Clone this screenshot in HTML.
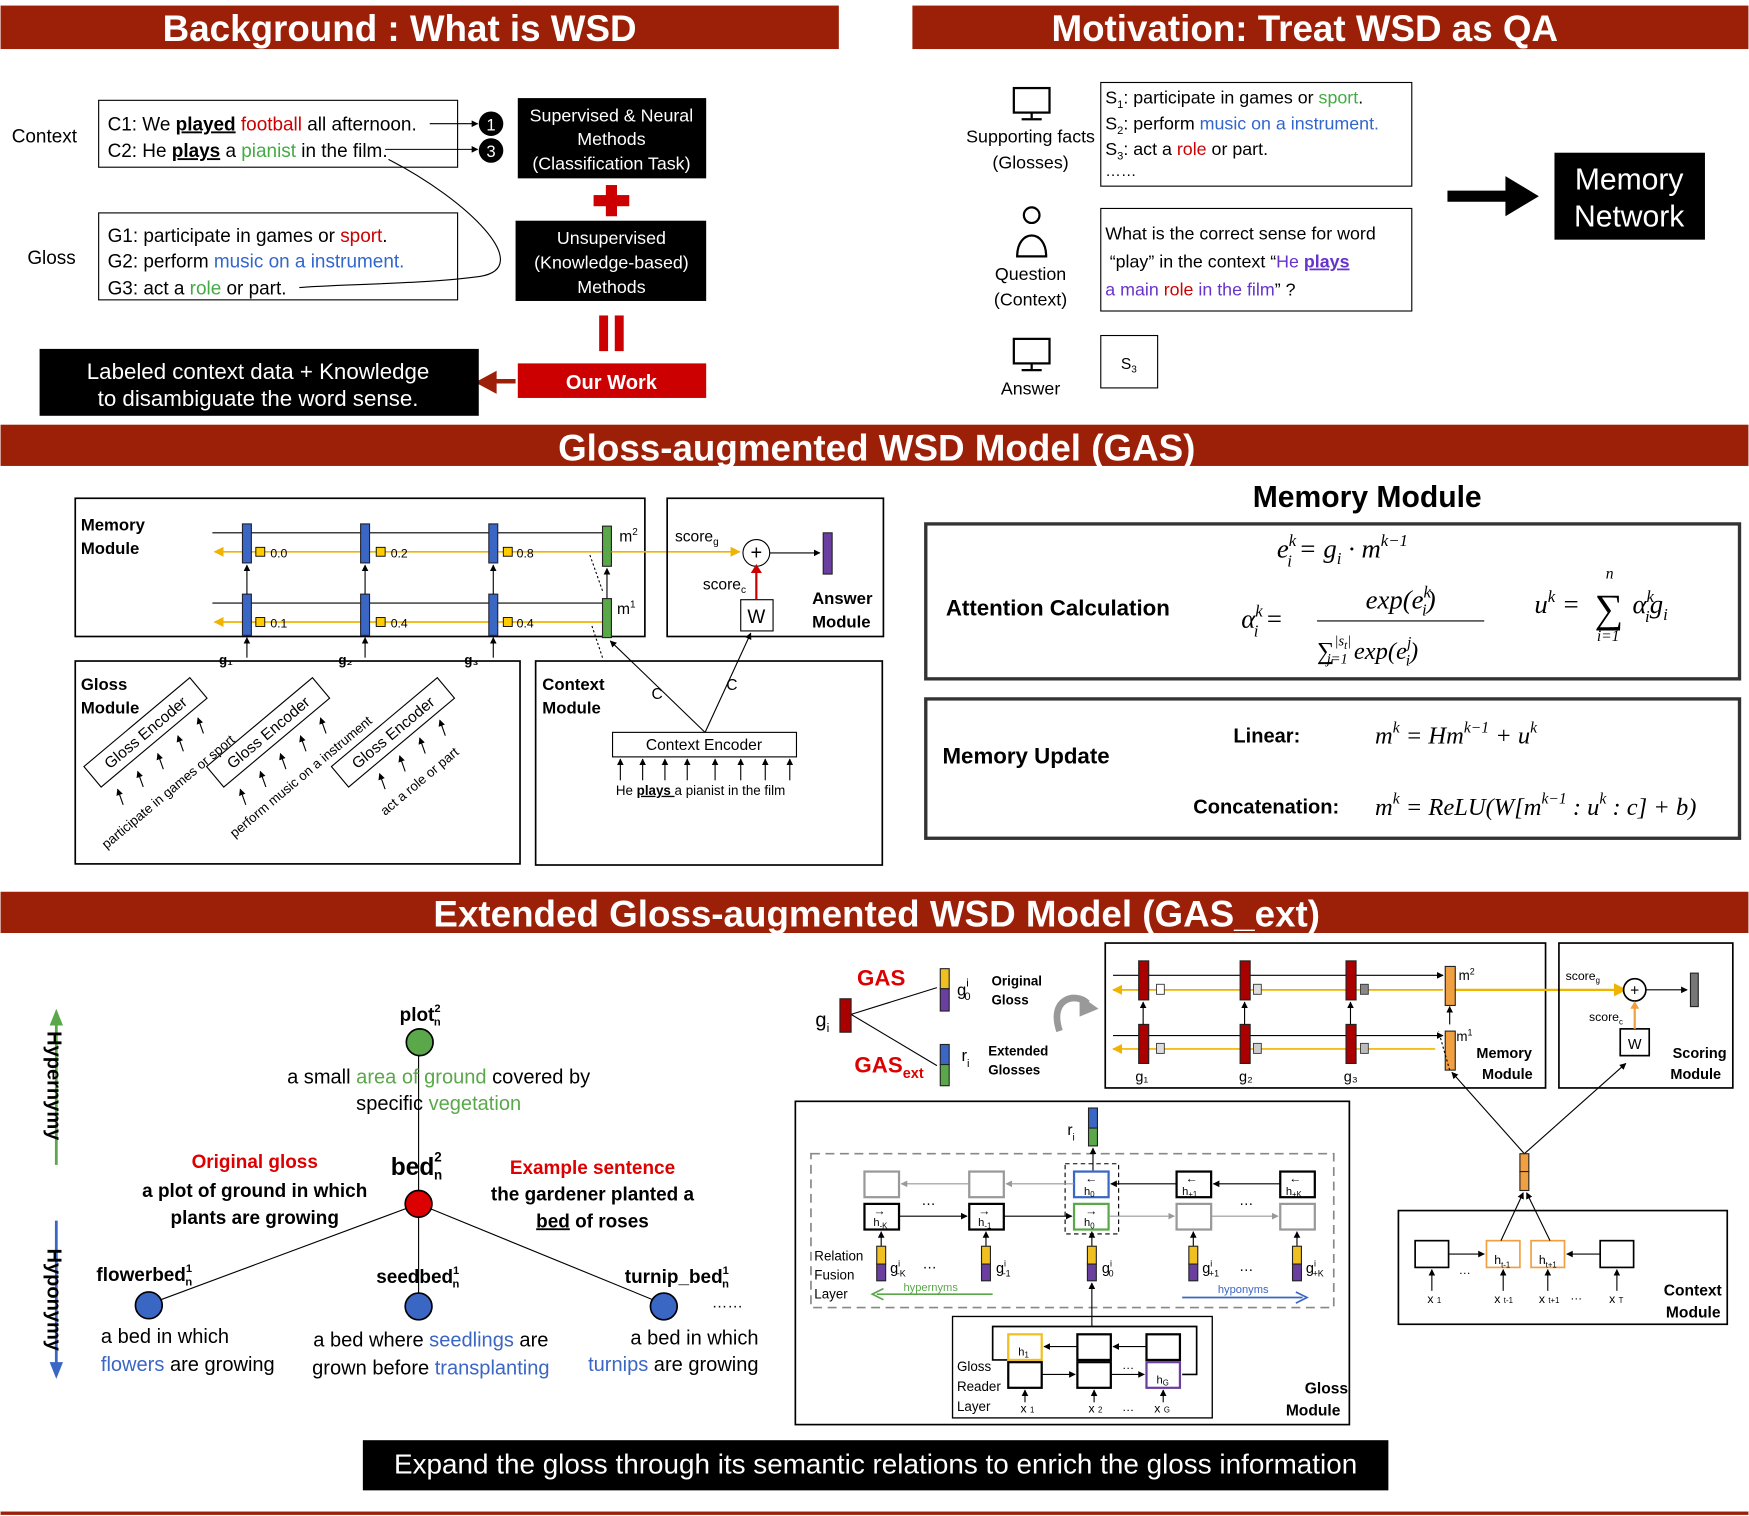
<!DOCTYPE html>
<html><head><meta charset="utf-8"><style>
html,body{margin:0;padding:0;background:#fff;}
svg{display:block;}
text{font-family:"Liberation Sans",sans-serif;}
.b{font-weight:bold;}
.m{font-family:"Liberation Serif",serif;font-style:italic;}
</style></head><body>
<svg width="1749" height="1516" viewBox="0 0 1568 1360" xmlns="http://www.w3.org/2000/svg">
<defs>
<marker id="a" viewBox="0 0 10 10" refX="9" refY="5" markerWidth="6" markerHeight="6" orient="auto"><path d="M0,0L10,5L0,10z" fill="#000"/></marker>
<marker id="ay" viewBox="0 0 10 10" refX="9" refY="5" markerWidth="6" markerHeight="6" orient="auto"><path d="M0,0L10,5L0,10z" fill="#f0b400"/></marker>
<marker id="ag" viewBox="0 0 10 10" refX="9" refY="5" markerWidth="6" markerHeight="6" orient="auto"><path d="M0,0L10,5L0,10z" fill="#999"/></marker>
</defs>
<rect width="1568" height="1360" fill="#fff"/>
<!-- banners -->
<rect x="0" y="5" width="752" height="39" fill="#9c1f08"/>
<text x="358" y="37" font-size="33" fill="#fff" class="b" text-anchor="middle">Background : What is WSD</text>
<rect x="818" y="5" width="750" height="39" fill="#9c1f08"/>
<text x="1170" y="37" font-size="33" fill="#fff" class="b" text-anchor="middle">Motivation: Treat WSD as QA</text>
<rect x="0" y="381" width="1568" height="37" fill="#9c1f08"/>
<text x="786" y="413" font-size="33" fill="#fff" class="b" text-anchor="middle">Gloss-augmented WSD Model (GAS)</text>
<rect x="0" y="800" width="1568" height="37" fill="#9c1f08"/>
<text x="786" y="831" font-size="33" fill="#fff" class="b" text-anchor="middle">Extended Gloss-augmented WSD Model (GAS_ext)</text>
<rect x="0" y="1356" width="1568" height="3" fill="#9c1f08"/>

<!-- Background section -->
<text x="10" y="128" font-size="17">Context</text>
<text x="24" y="237" font-size="17">Gloss</text>
<rect x="88" y="90" width="322" height="60" fill="none" stroke="#000"/>
<text x="96" y="117" font-size="17">C1: We <tspan class="b" text-decoration="underline">played</tspan> <tspan fill="#c00">football</tspan> all afternoon.</text>
<text x="96" y="141" font-size="17">C2: He <tspan class="b" text-decoration="underline">plays</tspan> a <tspan fill="#4a4">pianist</tspan> in the film.</text>
<line x1="385" y1="111" x2="428" y2="111" stroke="#000" marker-end="url(#a)"/>
<line x1="345" y1="134" x2="428" y2="134" stroke="#000" marker-end="url(#a)"/>
<circle cx="440" cy="111" r="11" fill="#000"/><text x="440" y="117" font-size="15" fill="#fff" text-anchor="middle">1</text>
<circle cx="440" cy="135" r="11" fill="#000"/><text x="440" y="141" font-size="15" fill="#fff" text-anchor="middle">3</text>
<path d="M348,143 C420,180 480,240 430,248 C380,255 300,255 268,258" fill="none" stroke="#000"/>
<rect x="88" y="191" width="322" height="78" fill="none" stroke="#000"/>
<text x="96" y="217" font-size="17">G1: participate in games or <tspan fill="#c00">sport</tspan>.</text>
<text x="96" y="240" font-size="17">G2: perform <tspan fill="#36c">music on a instrument.</tspan></text>
<text x="96" y="264" font-size="17">G3: act a <tspan fill="#4a4">role</tspan> or part.</text>
<rect x="464" y="88" width="169" height="72" fill="#000"/>
<text x="548" y="109" font-size="16" fill="#fff" text-anchor="middle">Supervised &amp; Neural</text>
<text x="548" y="130" font-size="16" fill="#fff" text-anchor="middle">Methods</text>
<text x="548" y="152" font-size="16" fill="#fff" text-anchor="middle">(Classification Task)</text>
<rect x="543" y="166" width="10" height="28" fill="#c00"/><rect x="532" y="175" width="32" height="10" fill="#c00"/>
<rect x="462" y="198" width="171" height="72" fill="#000"/>
<text x="548" y="219" font-size="16" fill="#fff" text-anchor="middle">Unsupervised</text>
<text x="548" y="241" font-size="16" fill="#fff" text-anchor="middle">(Knowledge-based)</text>
<text x="548" y="263" font-size="16" fill="#fff" text-anchor="middle">Methods</text>
<rect x="537" y="283" width="8" height="32" fill="#c00"/><rect x="551" y="283" width="8" height="32" fill="#c00"/>
<rect x="464" y="326" width="169" height="31" fill="#c00"/>
<text x="548" y="349" font-size="18" fill="#fff" class="b" text-anchor="middle">Our Work</text>
<path d="M462,342 L443,342 L443,336 L430,343 L443,350 L443,344" fill="#9c1f08" stroke="#9c1f08" stroke-width="4"/>
<rect x="35" y="313" width="394" height="60" fill="#000"/>
<text x="231" y="340" font-size="20" fill="#fff" text-anchor="middle">Labeled context data + Knowledge</text>
<text x="231" y="364" font-size="20" fill="#fff" text-anchor="middle">to disambiguate the word sense.</text>

<!-- Motivation -->
<g fill="none" stroke="#000" stroke-width="2">
<rect x="909" y="79" width="32" height="22"/><line x1="925" y1="101" x2="925" y2="106"/><line x1="916" y1="107" x2="934" y2="107"/>
<rect x="909" y="304" width="32" height="22"/><line x1="925" y1="326" x2="925" y2="331"/><line x1="916" y1="332" x2="934" y2="332"/>
<circle cx="925" cy="193" r="7"/><path d="M912,230 C912,205 938,205 938,230 Z"/>
</g>
<text x="924" y="128" font-size="16" text-anchor="middle">Supporting facts</text>
<text x="924" y="151" font-size="16" text-anchor="middle">(Glosses)</text>
<text x="924" y="251" font-size="16" text-anchor="middle">Question</text>
<text x="924" y="274" font-size="16" text-anchor="middle">(Context)</text>
<text x="924" y="354" font-size="16" text-anchor="middle">Answer</text>
<rect x="987" y="74" width="279" height="93" fill="none" stroke="#000"/>
<text x="991" y="93" font-size="16">S<tspan font-size="10" dy="4">1</tspan><tspan dy="-4">: participate in games or </tspan><tspan fill="#4a4">sport</tspan>.</text>
<text x="991" y="116" font-size="16">S<tspan font-size="10" dy="4">2</tspan><tspan dy="-4">: perform </tspan><tspan fill="#36c">music on a instrument.</tspan></text>
<text x="991" y="139" font-size="16">S<tspan font-size="10" dy="4">3</tspan><tspan dy="-4">: act a </tspan><tspan fill="#c00">role</tspan> or part.</text>
<text x="991" y="158" font-size="14">……</text>
<rect x="987" y="187" width="279" height="92" fill="none" stroke="#000"/>
<text x="991" y="215" font-size="16">What is the correct sense for word</text>
<text x="995" y="240" font-size="16">“play”  in the context “<tspan fill="#63c">He <tspan class="b" text-decoration="underline">plays</tspan></tspan></text>
<text x="991" y="265" font-size="16"><tspan fill="#63c">a main </tspan><tspan fill="#c00">role</tspan><tspan fill="#63c"> in the film</tspan>” ?</text>
<rect x="987" y="301" width="51" height="47" fill="none" stroke="#000"/>
<text x="1005" y="331" font-size="14">S<tspan font-size="9" dy="3">3</tspan></text>
<path d="M1298,171 L1350,171 L1350,158 L1380,176 L1350,194 L1350,181 L1298,181 Z" fill="#000"/>
<rect x="1394" y="137" width="135" height="78" fill="#000"/>
<text x="1461" y="170" font-size="27" fill="#fff" text-anchor="middle">Memory</text>
<text x="1461" y="203" font-size="27" fill="#fff" text-anchor="middle">Network</text>

<!-- GAS model -->
<rect x="67" y="447" width="511" height="124" fill="none" stroke="#000" stroke-width="1.5"/>
<text x="72" y="476" font-size="15" class="b">Memory</text><text x="72" y="497" font-size="15" class="b">Module</text>
<line x1="190" y1="478" x2="540" y2="478" stroke="#000"/>
<line x1="540" y1="495" x2="192" y2="495" stroke="#f0b400" stroke-width="1.5" marker-end="url(#ay)"/>
<line x1="190" y1="541" x2="540" y2="541" stroke="#000"/>
<line x1="540" y1="558" x2="192" y2="558" stroke="#f0b400" stroke-width="1.5" marker-end="url(#ay)"/>
<g fill="#3a66c4" stroke="#223" stroke-width="1">
<rect x="217" y="470" width="8" height="35"/><rect x="323" y="470" width="8" height="35"/><rect x="438" y="470" width="8" height="35"/>
<rect x="217" y="533" width="8" height="37"/><rect x="323" y="533" width="8" height="37"/><rect x="438" y="533" width="8" height="37"/>
</g>
<g stroke="#000" marker-end="url(#a)">
<line x1="221" y1="533" x2="221" y2="507"/><line x1="327" y1="533" x2="327" y2="507"/><line x1="442" y1="533" x2="442" y2="507"/>
<line x1="221" y1="590" x2="221" y2="572"/><line x1="327" y1="590" x2="327" y2="572"/><line x1="442" y1="590" x2="442" y2="572"/>
<line x1="544" y1="537" x2="544" y2="510"/>
</g>
<g fill="#fc0" stroke="#000" stroke-width="0.8">
<rect x="229" y="491" width="8" height="8"/><rect x="337" y="491" width="8" height="8"/><rect x="451" y="491" width="8" height="8"/>
<rect x="229" y="554" width="8" height="8"/><rect x="337" y="554" width="8" height="8"/><rect x="451" y="554" width="8" height="8"/>
</g>
<g font-size="11"><text x="242" y="500">0.0</text><text x="350" y="500">0.2</text><text x="463" y="500">0.8</text>
<text x="242" y="563">0.1</text><text x="350" y="563">0.4</text><text x="463" y="563">0.4</text></g>
<rect x="540" y="472" width="8" height="36" fill="#5aa84a" stroke="#222"/>
<rect x="540" y="537" width="8" height="35" fill="#5aa84a" stroke="#222"/>
<text x="555" y="486" font-size="14">m<tspan font-size="9" dy="-6">2</tspan></text>
<text x="553" y="551" font-size="14">m<tspan font-size="9" dy="-6">1</tspan></text>
<line x1="548" y1="495" x2="663" y2="495" stroke="#f0b400" stroke-width="1.5" marker-end="url(#ay)"/>
<line x1="540" y1="530" x2="528" y2="496" stroke="#000" stroke-dasharray="2,2"/>
<line x1="540" y1="590" x2="530" y2="560" stroke="#000" stroke-dasharray="2,2"/>
<text x="196" y="596" font-size="12" class="b">g₁</text><text x="303" y="596" font-size="12" class="b">g₂</text><text x="416" y="596" font-size="12" class="b">g₃</text>
<rect x="598" y="447" width="194" height="124" fill="none" stroke="#000" stroke-width="1.5"/>
<text x="605" y="486" font-size="14">score<tspan font-size="9" dy="3">g</tspan></text>
<text x="630" y="529" font-size="14">score<tspan font-size="9" dy="3">c</tspan></text>
<circle cx="678" cy="496" r="12" fill="#fff" stroke="#000"/><text x="678" y="502" font-size="18" text-anchor="middle">+</text>
<line x1="690" y1="496" x2="735" y2="496" stroke="#000" marker-end="url(#a)"/>
<rect x="738" y="478" width="8" height="37" fill="#6a3fa0" stroke="#222"/>
<rect x="664" y="538" width="29" height="28" fill="#fff" stroke="#000"/><text x="678" y="559" font-size="17" text-anchor="middle">W</text>
<line x1="678" y1="538" x2="678" y2="510" stroke="#c00" stroke-width="2"/>
<path d="M673,514 L678,506 L683,514z" fill="#c00"/>
<text x="728" y="542" font-size="15" class="b">Answer</text><text x="728" y="563" font-size="15" class="b">Module</text>
<rect x="67" y="593" width="399" height="182" fill="none" stroke="#000" stroke-width="1.5"/>
<text x="72" y="619" font-size="15" class="b">Gloss</text><text x="72" y="640" font-size="15" class="b">Module</text>
<g font-size="14">
<g transform="translate(130,657) rotate(-40)"><rect x="-62" y="-12" width="124" height="24" fill="#fff" stroke="#000"/><text x="0" y="5" text-anchor="middle">Gloss Encoder</text></g>
<g transform="translate(240,657) rotate(-40)"><rect x="-62" y="-12" width="124" height="24" fill="#fff" stroke="#000"/><text x="0" y="5" text-anchor="middle">Gloss Encoder</text></g>
<g transform="translate(352,657) rotate(-40)"><rect x="-62" y="-12" width="124" height="24" fill="#fff" stroke="#000"/><text x="0" y="5" text-anchor="middle">Gloss Encoder</text></g>
</g>
<g font-size="12">
<text transform="translate(95,762) rotate(-40)">participate in games or sport</text>
<text transform="translate(210,752) rotate(-40)">perform music on a instrument</text>
<text transform="translate(345,732) rotate(-40)">act a role or part</text>
</g>
<g stroke="#000" marker-end="url(#a)">
<line x1="110" y1="722" x2="105" y2="708"/><line x1="128" y1="706" x2="123" y2="692"/><line x1="146" y1="690" x2="141" y2="676"/><line x1="164" y1="674" x2="159" y2="660"/><line x1="182" y1="658" x2="177" y2="644"/>
<line x1="220" y1="722" x2="215" y2="708"/><line x1="238" y1="706" x2="233" y2="692"/><line x1="256" y1="690" x2="251" y2="676"/><line x1="274" y1="674" x2="269" y2="660"/><line x1="292" y1="658" x2="287" y2="644"/>
<line x1="345" y1="708" x2="340" y2="694"/><line x1="363" y1="692" x2="358" y2="678"/><line x1="381" y1="676" x2="376" y2="662"/><line x1="399" y1="660" x2="394" y2="646"/>
</g>
<rect x="480" y="593" width="311" height="183" fill="none" stroke="#000" stroke-width="1.5"/>
<text x="486" y="619" font-size="15" class="b">Context</text><text x="486" y="640" font-size="15" class="b">Module</text>
<rect x="549" y="657" width="165" height="22" fill="#fff" stroke="#000"/>
<text x="631" y="673" font-size="14" text-anchor="middle">Context Encoder</text>
<line x1="632" y1="657" x2="547" y2="575" stroke="#000" marker-end="url(#a)"/>
<line x1="632" y1="657" x2="673" y2="568" stroke="#000" marker-end="url(#a)"/>
<text x="584" y="627" font-size="14">C</text><text x="651" y="619" font-size="14">C</text>
<g stroke="#000" marker-end="url(#a)">
<line x1="556" y1="700" x2="556" y2="681"/><line x1="576" y1="700" x2="576" y2="681"/><line x1="596" y1="700" x2="596" y2="681"/><line x1="616" y1="700" x2="616" y2="681"/><line x1="641" y1="700" x2="641" y2="681"/><line x1="664" y1="700" x2="664" y2="681"/><line x1="686" y1="700" x2="686" y2="681"/><line x1="708" y1="700" x2="708" y2="681"/>
</g>
<text x="552" y="713" font-size="12">He <tspan class="b" text-decoration="underline">plays </tspan>a pianist in the film</text>

<text x="1226" y="455" font-size="27" class="b" text-anchor="middle">Memory Module</text>
<rect x="830" y="470" width="730" height="139" fill="none" stroke="#333" stroke-width="3"/>
<text x="848" y="552" font-size="20" class="b">Attention Calculation</text>
<text x="1145" y="500" font-size="24" class="m">e<tspan font-size="15" dy="-10">k</tspan><tspan font-size="15" dx="-8" dy="18">i</tspan><tspan dy="-8"> = g</tspan><tspan font-size="15" dy="6">i</tspan><tspan dy="-6"> · m</tspan><tspan font-size="15" dy="-10">k−1</tspan></text>
<text x="1113" y="563" font-size="24" class="m">α<tspan font-size="15" dy="-10">k</tspan><tspan font-size="15" dx="-8" dy="18">i</tspan><tspan dy="-8"> =</tspan></text>
<text x="1256" y="546" font-size="24" class="m" text-anchor="middle">exp(e<tspan font-size="15" dy="-10">k</tspan><tspan font-size="15" dx="-8" dy="16">i</tspan><tspan dy="-6">)</tspan></text>
<line x1="1181" y1="557" x2="1331" y2="557" stroke="#000"/>
<text x="1181" y="591" font-size="22" class="m">∑<tspan font-size="13" dy="-12">|s</tspan><tspan font-size="10" dy="3">t</tspan><tspan font-size="13" dy="-3">|</tspan><tspan font-size="13" dx="-22" dy="16">j=1</tspan><tspan dy="-4"> exp(e</tspan><tspan font-size="14" dy="-10">j</tspan><tspan font-size="14" dx="-5" dy="16">i</tspan><tspan dy="-6">)</tspan></text>
<text x="1376" y="550" font-size="24" class="m">u<tspan font-size="15" dy="-10">k</tspan><tspan dy="10"> = </tspan></text>
<text x="1430" y="558" font-size="36" class="m">∑</text>
<text x="1440" y="519" font-size="14" class="m">n</text><text x="1432" y="575" font-size="14" class="m">i=1</text>
<text x="1464" y="550" font-size="24" class="m">α<tspan font-size="15" dy="-10">k</tspan><tspan font-size="15" dx="-8" dy="18">i</tspan><tspan dy="-8">g</tspan><tspan font-size="15" dy="6">i</tspan></text>
<rect x="830" y="627" width="730" height="125" fill="none" stroke="#333" stroke-width="3"/>
<text x="845" y="685" font-size="20" class="b">Memory Update</text>
<text x="1106" y="666" font-size="18" class="b">Linear:</text>
<text x="1070" y="730" font-size="18" class="b">Concatenation:</text>
<text x="1233" y="667" font-size="22" class="m">m<tspan font-size="14" dy="-10">k</tspan><tspan dy="10"> = Hm</tspan><tspan font-size="14" dy="-10">k−1</tspan><tspan dy="10"> + u</tspan><tspan font-size="14" dy="-10">k</tspan></text>
<text x="1233" y="731" font-size="22" class="m">m<tspan font-size="14" dy="-10">k</tspan><tspan dy="10"> = ReLU(W[m</tspan><tspan font-size="14" dy="-10">k−1</tspan><tspan dy="10"> : u</tspan><tspan font-size="14" dy="-10">k</tspan><tspan dy="10"> : c] + b)</tspan></text>

<!-- Bottom-left tree -->
<line x1="50" y1="1045" x2="50" y2="915" stroke="#5aa84a" stroke-width="2.5"/>
<path d="M44,920 L50,905 L56,920z" fill="#5aa84a"/>
<line x1="50" y1="1095" x2="50" y2="1225" stroke="#3a66c4" stroke-width="2.5"/>
<path d="M44,1222 L50,1237 L56,1222z" fill="#3a66c4"/>
<text transform="translate(42,925) rotate(90)" font-size="18" class="b">Hypernymy</text>
<text transform="translate(42,1120) rotate(90)" font-size="18" class="b">Hyponymy</text>
<line x1="375" y1="935" x2="375" y2="1170" stroke="#000"/>
<line x1="375" y1="1080" x2="133" y2="1170" stroke="#000"/>
<line x1="375" y1="1080" x2="595" y2="1170" stroke="#000"/>
<circle cx="376" cy="935" r="12" fill="#5aa84a" stroke="#000" stroke-width="1.5"/>
<circle cx="375" cy="1080" r="12" fill="#d00" stroke="#000" stroke-width="1.5"/>
<circle cx="133" cy="1171" r="12" fill="#3a66c4" stroke="#000" stroke-width="1.5"/>
<circle cx="375" cy="1172" r="12" fill="#3a66c4" stroke="#000" stroke-width="1.5"/>
<circle cx="595" cy="1172" r="12" fill="#3a66c4" stroke="#000" stroke-width="1.5"/>
<text x="358" y="916" font-size="17" class="b">plot<tspan font-size="10" dy="-8">2</tspan><tspan font-size="10" dx="-6" dy="12">n</tspan></text>
<text x="393" y="972" font-size="18" text-anchor="middle">a small <tspan fill="#5aa84a">area of ground</tspan> covered by</text>
<text x="393" y="996" font-size="18" text-anchor="middle">specific <tspan fill="#5aa84a">vegetation</tspan></text>
<text x="350" y="1054" font-size="22" class="b">bed<tspan font-size="12" dy="-12">2</tspan><tspan font-size="12" dx="-7" dy="16">n</tspan></text>
<text x="228" y="1048" font-size="17" class="b" fill="#d00" text-anchor="middle">Original gloss</text>
<text x="228" y="1074" font-size="17" class="b" text-anchor="middle">a plot of ground in which</text>
<text x="228" y="1098" font-size="17" class="b" text-anchor="middle">plants are growing</text>
<text x="531" y="1053" font-size="17" class="b" fill="#d00" text-anchor="middle">Example sentence</text>
<text x="531" y="1077" font-size="17" class="b" text-anchor="middle">the gardener planted a</text>
<text x="531" y="1101" font-size="17" class="b" text-anchor="middle"><tspan text-decoration="underline">bed</tspan> of roses</text>
<text x="86" y="1149" font-size="17" class="b">flowerbed<tspan font-size="10" dy="-8">1</tspan><tspan font-size="10" dx="-6" dy="12">n</tspan></text>
<text x="337" y="1151" font-size="17" class="b">seedbed<tspan font-size="10" dy="-8">1</tspan><tspan font-size="10" dx="-6" dy="12">n</tspan></text>
<text x="560" y="1151" font-size="17" class="b">turnip_bed<tspan font-size="10" dy="-8">1</tspan><tspan font-size="10" dx="-6" dy="12">n</tspan></text>
<text x="638" y="1173" font-size="14">……</text>
<text x="90" y="1205" font-size="18">a bed in which</text>
<text x="90" y="1230" font-size="18"><tspan fill="#3a66c4">flowers</tspan> are growing</text>
<text x="386" y="1208" font-size="18" text-anchor="middle">a bed where <tspan fill="#3a66c4">seedlings</tspan> are</text>
<text x="386" y="1233" font-size="18" text-anchor="middle">grown before <tspan fill="#3a66c4">transplanting</tspan></text>
<text x="680" y="1206" font-size="18" text-anchor="end">a bed in which</text>
<text x="680" y="1230" font-size="18" text-anchor="end"><tspan fill="#3a66c4">turnips</tspan> are growing</text>

<!-- GAS / GAS_ext legend -->
<text x="790" y="884" font-size="20" class="b" fill="#d00" text-anchor="middle">GAS</text>
<text x="766" y="962" font-size="20" class="b" fill="#d00">GAS<tspan font-size="13" dy="5">ext</tspan></text>
<text x="731" y="921" font-size="18">g<tspan font-size="11" dy="5">i</tspan></text>
<rect x="753" y="896" width="10" height="30" fill="#a00" stroke="#222"/>
<line x1="763" y1="910" x2="840" y2="886" stroke="#000"/>
<line x1="763" y1="910" x2="840" y2="956" stroke="#000"/>
<rect x="843" y="869" width="8" height="18" fill="#f0c020" stroke="#222"/><rect x="843" y="887" width="8" height="20" fill="#6a3fa0" stroke="#222"/>
<rect x="843" y="937" width="8" height="18" fill="#3a66c4" stroke="#222"/><rect x="843" y="955" width="8" height="19" fill="#5aa84a" stroke="#222"/>
<text x="858" y="893" font-size="15">g<tspan font-size="10" dy="-8">i</tspan><tspan font-size="10" dx="-4" dy="12">0</tspan></text>
<text x="862" y="952" font-size="15">r<tspan font-size="10" dy="5">i</tspan></text>
<text x="889" y="884" font-size="12" class="b">Original</text><text x="889" y="901" font-size="12" class="b">Gloss</text>
<text x="886" y="947" font-size="12" class="b">Extended</text><text x="886" y="964" font-size="12" class="b">Glosses</text>
<path d="M950,925 C940,895 965,890 975,900" fill="none" stroke="#999" stroke-width="6"/>
<path d="M968,893 L985,905 L968,912z" fill="#999"/>

<!-- GAS_ext Memory module -->
<rect x="991" y="846" width="395" height="130" fill="none" stroke="#000" stroke-width="1.5"/>
<line x1="998" y1="875" x2="1294" y2="875" stroke="#000" marker-end="url(#a)"/>
<line x1="998" y1="929" x2="1294" y2="929" stroke="#000" marker-end="url(#a)"/>
<line x1="1303" y1="888" x2="1458" y2="888" stroke="#f0b400" stroke-width="2" marker-end="url(#ay)"/>
<line x1="1294" y1="888" x2="998" y2="888" stroke="#f0b400" stroke-width="1.5" marker-end="url(#ay)"/>
<line x1="1287" y1="941" x2="998" y2="941" stroke="#f0b400" stroke-width="1.5" marker-end="url(#ay)"/>
<g fill="#a00" stroke="#222">
<rect x="1021" y="862" width="9" height="35"/><rect x="1112" y="862" width="9" height="35"/><rect x="1207" y="862" width="9" height="35"/>
<rect x="1021" y="919" width="9" height="35"/><rect x="1112" y="919" width="9" height="35"/><rect x="1207" y="919" width="9" height="35"/>
</g>
<g stroke="#000" marker-end="url(#a)">
<line x1="1025" y1="919" x2="1025" y2="899"/><line x1="1116" y1="919" x2="1116" y2="899"/><line x1="1211" y1="919" x2="1211" y2="899"/>
<line x1="1300" y1="919" x2="1300" y2="903"/>
</g>
<g stroke="#333" stroke-width="0.8">
<rect x="1037" y="883" width="7" height="9" fill="#fff"/><rect x="1124" y="883" width="7" height="9" fill="#ddd"/><rect x="1220" y="883" width="7" height="9" fill="#888"/>
<rect x="1037" y="936" width="7" height="9" fill="#ddd"/><rect x="1124" y="936" width="7" height="9" fill="#ccc"/><rect x="1220" y="936" width="7" height="9" fill="#bbb"/>
</g>
<rect x="1296" y="867" width="9" height="35" fill="#f0a040" stroke="#222"/>
<rect x="1296" y="925" width="9" height="35" fill="#f0a040" stroke="#222"/>
<text x="1308" y="879" font-size="12">m<tspan font-size="8" dy="-5">2</tspan></text>
<text x="1306" y="934" font-size="12">m<tspan font-size="8" dy="-5">1</tspan></text>
<line x1="1300" y1="960" x2="1290" y2="925" stroke="#000" stroke-dasharray="2,2"/>
<text x="1018" y="970" font-size="13">g₁</text><text x="1111" y="970" font-size="13">g₂</text><text x="1205" y="970" font-size="13">g₃</text>
<text x="1324" y="949" font-size="13" class="b">Memory</text><text x="1329" y="968" font-size="13" class="b">Module</text>
<rect x="1398" y="846" width="156" height="130" fill="none" stroke="#000" stroke-width="1.5"/>
<text x="1404" y="879" font-size="11">score<tspan font-size="7" dy="3">g</tspan></text>
<text x="1425" y="916" font-size="11">score<tspan font-size="7" dy="3">c</tspan></text>
<circle cx="1466" cy="888" r="10" fill="#fff" stroke="#000" stroke-width="1.5"/><text x="1466" y="893" font-size="14" text-anchor="middle">+</text>
<line x1="1476" y1="888" x2="1513" y2="888" stroke="#000" marker-end="url(#a)"/>
<rect x="1516" y="873" width="7" height="30" fill="#777" stroke="#222"/>
<rect x="1453" y="923" width="26" height="24" fill="#fff" stroke="#000" stroke-width="1.5"/><text x="1466" y="941" font-size="13" text-anchor="middle">W</text>
<line x1="1466" y1="923" x2="1466" y2="902" stroke="#f0a040" stroke-width="2"/>
<path d="M1462,905 L1466,898 L1470,905z" fill="#f0a040"/>
<text x="1500" y="949" font-size="13" class="b">Scoring</text><text x="1498" y="968" font-size="13" class="b">Module</text>
<line x1="1367" y1="1035" x2="1302" y2="962" stroke="#000" marker-end="url(#a)"/>
<line x1="1367" y1="1035" x2="1458" y2="954" stroke="#000" marker-end="url(#a)"/>
<rect x="1363" y="1035" width="8" height="16" fill="#f0a040" stroke="#222"/><rect x="1363" y="1051" width="8" height="17" fill="#f0a040" stroke="#222"/>

<!-- Context module ext -->
<rect x="1254" y="1086" width="295" height="102" fill="none" stroke="#000" stroke-width="1.5"/>
<g fill="#fff" stroke-width="1.5">
<rect x="1269" y="1113" width="30" height="24" stroke="#000"/>
<rect x="1333" y="1113" width="30" height="24" stroke="#f0a040"/>
<rect x="1373" y="1113" width="30" height="24" stroke="#f0a040"/>
<rect x="1435" y="1113" width="30" height="24" stroke="#000"/>
</g>
<text x="1340" y="1134" font-size="11">h<tspan font-size="7" dy="3">t-1</tspan></text>
<text x="1380" y="1134" font-size="11">h<tspan font-size="7" dy="3">t+1</tspan></text>
<line x1="1299" y1="1125" x2="1331" y2="1125" stroke="#000" marker-end="url(#a)"/>
<line x1="1435" y1="1125" x2="1405" y2="1125" stroke="#000" marker-end="url(#a)"/>
<line x1="1346" y1="1113" x2="1366" y2="1070" stroke="#000" marker-end="url(#a)"/>
<line x1="1390" y1="1113" x2="1369" y2="1070" stroke="#000" marker-end="url(#a)"/>
<g stroke="#000" marker-end="url(#a)">
<line x1="1284" y1="1158" x2="1284" y2="1139"/><line x1="1348" y1="1158" x2="1348" y2="1139"/><line x1="1388" y1="1158" x2="1388" y2="1139"/><line x1="1450" y1="1158" x2="1450" y2="1139"/>
</g>
<text x="1308" y="1143" font-size="11">…</text><text x="1408" y="1166" font-size="11">…</text>
<text x="1280" y="1169" font-size="11">x <tspan font-size="7">1</tspan></text>
<text x="1340" y="1169" font-size="11">x <tspan font-size="7">t-1</tspan></text>
<text x="1380" y="1169" font-size="11">x <tspan font-size="7">t+1</tspan></text>
<text x="1443" y="1169" font-size="11">x <tspan font-size="7">T</tspan></text>
<text x="1492" y="1162" font-size="14" class="b">Context</text><text x="1494" y="1182" font-size="14" class="b">Module</text>

<!-- Gloss module ext -->
<rect x="713" y="988" width="497" height="290" fill="none" stroke="#000" stroke-width="1.5"/>
<rect x="727" y="1035" width="469" height="138" fill="none" stroke="#888" stroke-width="1.5" stroke-dasharray="8,5"/>
<rect x="955" y="1044" width="48" height="63" fill="none" stroke="#000" stroke-dasharray="4,3"/>
<rect x="976" y="994" width="8" height="18" fill="#3a66c4" stroke="#222"/><rect x="976" y="1012" width="8" height="16" fill="#5aa84a" stroke="#222"/>
<text x="957" y="1018" font-size="14">r<tspan font-size="9" dy="5">i</tspan></text>
<line x1="980" y1="1050" x2="980" y2="1030" stroke="#000" marker-end="url(#a)"/>
<g fill="#fff" stroke-width="2">
<rect x="775" y="1051" width="31" height="23" stroke="#999"/><rect x="869" y="1051" width="31" height="23" stroke="#999"/>
<rect x="963" y="1051" width="31" height="23" stroke="#3a66c4"/><rect x="1055" y="1051" width="31" height="23" stroke="#000"/><rect x="1148" y="1051" width="31" height="23" stroke="#000"/>
<rect x="775" y="1080" width="31" height="23" stroke="#000"/><rect x="869" y="1080" width="31" height="23" stroke="#000"/>
<rect x="963" y="1080" width="31" height="23" stroke="#5aa84a"/><rect x="1055" y="1080" width="31" height="23" stroke="#999"/><rect x="1148" y="1080" width="31" height="23" stroke="#999"/>
</g>
<g font-size="10">
<text x="972" y="1072">h<tspan font-size="7" dy="2">0</tspan></text><text x="1060" y="1072">h<tspan font-size="7" dy="2">+1</tspan></text><text x="1153" y="1072">h<tspan font-size="7" dy="2">+K</tspan></text>
<text x="783" y="1100">h<tspan font-size="7" dy="2">-K</tspan></text><text x="877" y="1100">h<tspan font-size="7" dy="2">-1</tspan></text><text x="972" y="1100">h<tspan font-size="7" dy="2">0</tspan></text>
</g>
<g font-size="11"><text x="973" y="1061">←</text><text x="1063" y="1061">←</text><text x="1156" y="1061">←</text><text x="783" y="1090">→</text><text x="877" y="1090">→</text><text x="973" y="1090">→</text></g>
<g stroke="#999" marker-end="url(#ag)">
<line x1="869" y1="1062" x2="808" y2="1062"/><line x1="963" y1="1062" x2="902" y2="1062"/>
<line x1="994" y1="1091" x2="1053" y2="1091"/><line x1="1086" y1="1091" x2="1146" y2="1091"/>
</g>
<g stroke="#000" marker-end="url(#a)">
<line x1="1055" y1="1062" x2="996" y2="1062"/><line x1="1148" y1="1062" x2="1088" y2="1062"/>
<line x1="806" y1="1091" x2="867" y2="1091"/><line x1="900" y1="1091" x2="961" y2="1091"/>
<line x1="790" y1="1118" x2="790" y2="1105"/><line x1="884" y1="1118" x2="884" y2="1105"/><line x1="979" y1="1118" x2="979" y2="1105"/><line x1="1070" y1="1118" x2="1070" y2="1105"/><line x1="1163" y1="1118" x2="1163" y2="1105"/>
<line x1="979" y1="1190" x2="979" y2="1151"/>
</g>
<g stroke="#222">
<rect x="786" y="1118" width="8" height="16" fill="#f0c020"/><rect x="786" y="1134" width="8" height="15" fill="#6a3fa0"/>
<rect x="880" y="1118" width="8" height="16" fill="#f0c020"/><rect x="880" y="1134" width="8" height="15" fill="#6a3fa0"/>
<rect x="975" y="1118" width="8" height="16" fill="#f0c020"/><rect x="975" y="1134" width="8" height="15" fill="#6a3fa0"/>
<rect x="1066" y="1118" width="8" height="16" fill="#f0c020"/><rect x="1066" y="1134" width="8" height="15" fill="#6a3fa0"/>
<rect x="1159" y="1118" width="8" height="16" fill="#f0c020"/><rect x="1159" y="1134" width="8" height="15" fill="#6a3fa0"/>
</g>
<g font-size="13">
<text x="798" y="1142">g<tspan font-size="8" dy="-6">i</tspan><tspan font-size="8" dx="-3" dy="9">-K</tspan></text>
<text x="893" y="1142">g<tspan font-size="8" dy="-6">i</tspan><tspan font-size="8" dx="-3" dy="9">-1</tspan></text>
<text x="988" y="1142">g<tspan font-size="8" dy="-6">i</tspan><tspan font-size="8" dx="-3" dy="9">0</tspan></text>
<text x="1078" y="1142">g<tspan font-size="8" dy="-6">i</tspan><tspan font-size="8" dx="-3" dy="9">+1</tspan></text>
<text x="1171" y="1142">g<tspan font-size="8" dy="-6">i</tspan><tspan font-size="8" dx="-3" dy="9">+K</tspan></text>
<text x="826" y="1081">…</text><text x="1111" y="1081">…</text><text x="827" y="1138">…</text><text x="1111" y="1140">…</text>
</g>
<g font-size="12"><text x="730" y="1131">Relation</text><text x="730" y="1148">Fusion</text><text x="730" y="1165">Layer</text></g>
<line x1="890" y1="1161" x2="786" y2="1161" stroke="#5aa84a" stroke-width="1.5"/><path d="M792,1156 L782,1161 L792,1166" fill="none" stroke="#5aa84a" stroke-width="1.5"/>
<text x="810" y="1158" font-size="10" fill="#5aa84a">hypernyms</text>
<line x1="1060" y1="1164" x2="1168" y2="1164" stroke="#3a66c4" stroke-width="1.5"/><path d="M1162,1159 L1172,1164 L1162,1169" fill="none" stroke="#3a66c4" stroke-width="1.5"/>
<text x="1092" y="1160" font-size="10" fill="#3a66c4">hyponyms</text>
<rect x="854" y="1181" width="233" height="91" fill="none" stroke="#000" stroke-width="1.2"/>
<polyline points="979,1190 1073,1190 1073,1233 1060,1233" fill="none" stroke="#000" stroke-width="1.5"/>
<polyline points="904,1203 904,1220 890,1220 890,1190 979,1190" fill="none" stroke="#000" stroke-width="1.5"/>
<g fill="#fff" stroke-width="2">
<rect x="904" y="1197" width="30" height="23" stroke="#f0c020"/><rect x="966" y="1197" width="30" height="23" stroke="#000"/><rect x="1028" y="1197" width="30" height="23" stroke="#000"/>
<rect x="904" y="1222" width="30" height="23" stroke="#000"/><rect x="966" y="1222" width="30" height="23" stroke="#000"/><rect x="1028" y="1222" width="30" height="23" stroke="#6a3fa0"/>
</g>
<text x="913" y="1216" font-size="10">h<tspan font-size="7" dy="2">1</tspan></text><text x="1037" y="1241" font-size="10">h<tspan font-size="7" dy="2">G</tspan></text>
<g stroke="#000" marker-end="url(#a)">
<line x1="966" y1="1208" x2="936" y2="1208"/><line x1="1028" y1="1208" x2="998" y2="1208"/>
<line x1="934" y1="1233" x2="964" y2="1233"/><line x1="996" y1="1233" x2="1026" y2="1233"/>
<line x1="919" y1="1258" x2="919" y2="1247"/><line x1="981" y1="1258" x2="981" y2="1247"/><line x1="1043" y1="1258" x2="1043" y2="1247"/>
</g>
<g font-size="12"><text x="858" y="1230">Gloss</text><text x="858" y="1248">Reader</text><text x="858" y="1266">Layer</text></g>
<g font-size="11"><text x="915" y="1267">x <tspan font-size="7">1</tspan></text><text x="976" y="1267">x <tspan font-size="7">2</tspan></text><text x="1035" y="1267">x <tspan font-size="7">G</tspan></text><text x="1006" y="1228">…</text><text x="1006" y="1266">…</text></g>
<text x="1170" y="1250" font-size="14" class="b">Gloss</text><text x="1153" y="1270" font-size="14" class="b">Module</text>

<!-- bottom black box -->
<rect x="325" y="1292" width="920" height="45" fill="#000"/>
<text x="785" y="1322" font-size="25" fill="#fff" text-anchor="middle">Expand the gloss through its semantic relations to enrich the gloss information</text>
</svg>
</body></html>
